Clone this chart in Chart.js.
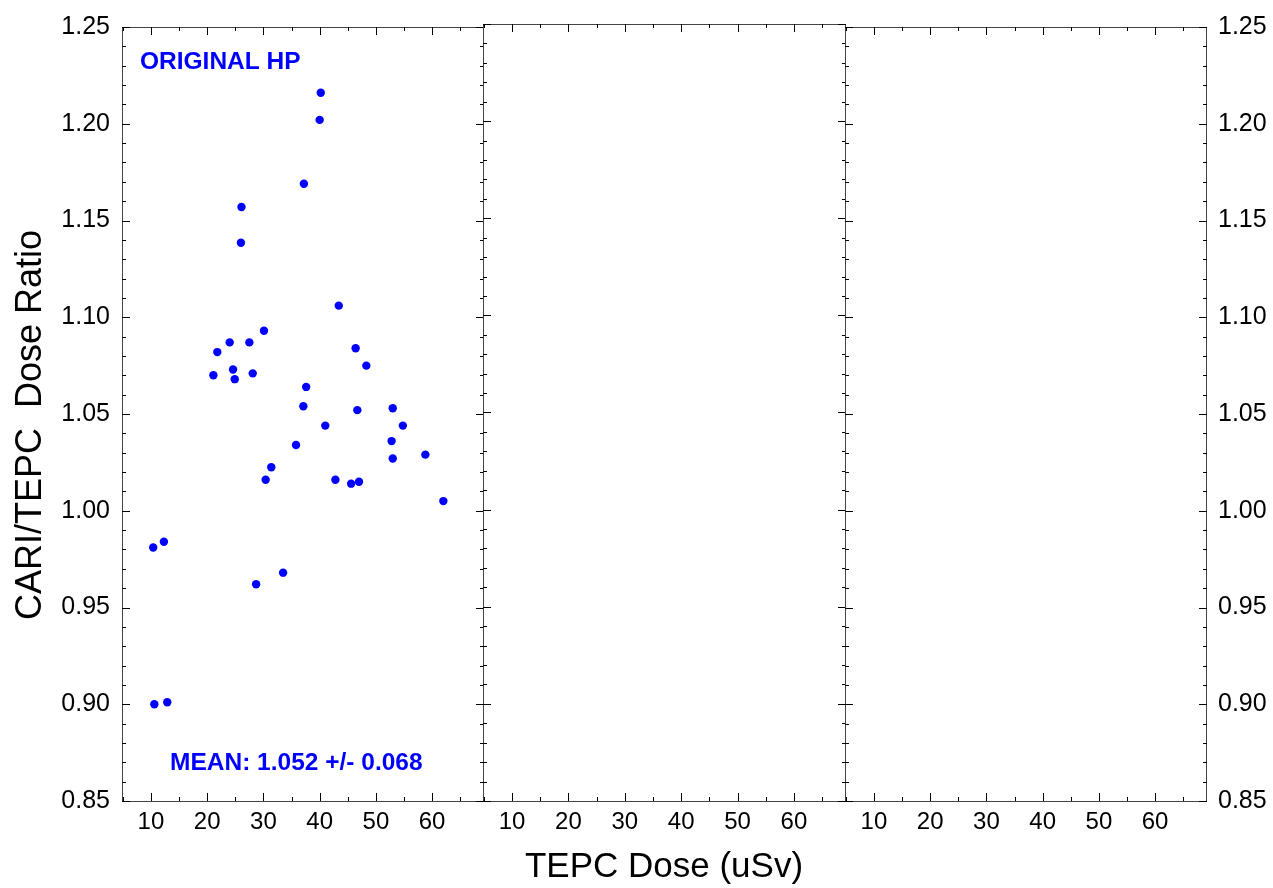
<!DOCTYPE html>
<html lang="en">
<head>
  <meta charset="UTF-8" />
  <title>CARI/TEPC Dose Ratio</title>
  <script src="https://cdn.jsdelivr.net/npm/chart.js"></script>
  <style>
    body {
      margin: 0;
      background: #fff;
    }
    .wrap {
      position: relative;
      width: 1273px;
      height: 888px;
      background: #fff;
    }
    .wrap canvas {
      position: absolute;
      top: 0;
    }
    #panelLeft { left: 0; }
    #panelMid { left: 476px; }
    #panelRight { left: 838px; }
  </style>
</head>
<body>
  <div class="wrap">
    <canvas id="panelLeft" width="490" height="888"></canvas>
    <canvas id="panelMid" width="376" height="888"></canvas>
    <canvas id="panelRight" width="435" height="888"></canvas>
  </div>

  <script>
    // TEPC dose (uSv) and CARI/TEPC ratio
    const tepcDose = [
      40.2, 40.0, 37.2, 26.1, 26.0,
      43.4, 30.1, 24.0, 27.5, 21.8, 46.4, 48.3, 24.6, 21.1, 24.9, 28.1,
      37.6, 37.1, 46.7, 53.0, 54.8, 41.0, 35.8, 52.8, 53.0, 58.8, 31.4,
      30.4, 42.8, 45.6, 47.0, 62.0,
      10.4, 12.3, 28.7, 33.5, 10.6, 12.9
    ];
    const doseRatio = [
      1.216, 1.202, 1.169, 1.157, 1.1385,
      1.106, 1.093, 1.087, 1.087, 1.082, 1.084, 1.075, 1.073, 1.070, 1.068, 1.071,
      1.064, 1.054, 1.052, 1.053, 1.044, 1.044, 1.034, 1.036, 1.027, 1.029, 1.0225,
      1.016, 1.016, 1.014, 1.015, 1.005,
      0.981, 0.984, 0.962, 0.968, 0.900, 0.901
    ];

    const xTicks = [10, 20, 30, 40, 50, 60];
    const xMinorTicks = [5, 15, 25, 35, 45, 55, 65];
    const yTicks = [0.85, 0.90, 0.95, 1.00, 1.05, 1.10, 1.15, 1.20, 1.25];
    const xRange = [4.85, 69.05];
    const yRange = [0.85, 1.25];

    const panelLabel = 'ORIGINAL HP';
    const meanLabel = 'MEAN: 1.052 +/- 0.068';
    const yTitle = 'CARI/TEPC  Dose Ratio';
    const xTitle = 'TEPC Dose (uSv)';

    const FONT = 'Arial, "Liberation Sans", sans-serif';
    const BLUE = '#0000ff';

    // y minor ticks every 0.01
    const yMinorTicks = [];
    for (let i = 85; i <= 125; i++) {
      if (i % 5 !== 0) yMinorTicks.push(i / 100);
    }

    // frame round the panel and inward tick marks on all four sides
    const frameTicks = {
      id: 'frameTicks',
      afterDatasetsDraw(chart) {
        const { ctx, chartArea: a, scales: { x, y } } = chart;
        ctx.save();
        ctx.strokeStyle = '#444';
        ctx.lineWidth = 1;
        ctx.strokeRect(a.left + 0.5, a.top + 0.5, a.right - a.left, a.bottom - a.top);

        ctx.strokeStyle = '#000';
        ctx.beginPath();
        const xt = (v, len) => {
          const px = Math.round(x.getPixelForValue(v)) + 0.5;
          ctx.moveTo(px, a.bottom);
          ctx.lineTo(px, a.bottom - len);
          ctx.moveTo(px, a.top);
          ctx.lineTo(px, a.top + len);
        };
        const yt = (v, len) => {
          const py = Math.round(y.getPixelForValue(v)) + 0.5;
          ctx.moveTo(a.left, py);
          ctx.lineTo(a.left + len, py);
          ctx.moveTo(a.right + 1, py);
          ctx.lineTo(a.right + 1 - len, py);
        };
        xTicks.forEach(v => xt(v, 8));
        xMinorTicks.forEach(v => xt(v, 4));
        yTicks.forEach(v => yt(v, 8));
        yMinorTicks.forEach(v => yt(v, 4));
        ctx.stroke();
        ctx.restore();
      }
    };

    // blue labels inside the left panel and the rotated y title
    const notes = {
      id: 'notes',
      afterDraw(chart) {
        const { ctx, chartArea: a } = chart;
        ctx.save();
        ctx.font = 'bold 24.5px ' + FONT;
        ctx.fillStyle = BLUE;
        ctx.textBaseline = 'middle';
        ctx.fillText(panelLabel, a.left + 18, 62);
        ctx.fillText(meanLabel, a.left + 48, 763);

        ctx.translate(31, 425);
        ctx.rotate(-Math.PI / 2);
        ctx.font = '36px ' + FONT;
        ctx.fillStyle = '#000';
        ctx.textAlign = 'center';
        ctx.fillText(yTitle, 0, 0);
        ctx.restore();
      }
    };

    function makePanel(id, cfg) {
      const xScale = {
        type: 'linear',
        position: 'bottom',
        min: xRange[0],
        max: xRange[1],
        afterBuildTicks: s => { s.ticks = xTicks.map(v => ({ value: v })); },
        afterFit: s => { s.height = 87; },
        grid: { display: false, drawTicks: false },
        border: { display: false },
        ticks: {
          color: '#000',
          padding: 7,
          maxRotation: 0,
          autoSkip: false,
          font: { family: FONT, size: 24 }
        },
        title: {
          display: !!cfg.xTitle,
          text: cfg.xTitle || '',
          color: '#000',
          padding: { top: 0, bottom: 0 },
          font: { family: FONT, size: 35 }
        }
      };

      const yScale = {
        type: 'linear',
        display: cfg.yPos ? true : false,
        position: cfg.yPos || 'left',
        min: yRange[0],
        max: yRange[1],
        afterBuildTicks: s => { s.ticks = yTicks.map(v => ({ value: v })); },
        afterFit: s => { s.width = cfg.yWidth || 0; },
        grid: { display: false, drawTicks: false },
        border: { display: false },
        ticks: {
          color: '#000',
          padding: 12,
          autoSkip: false,
          font: { family: FONT, size: 25 },
          callback: v => v.toFixed(2)
        }
      };

      return new Chart(document.getElementById(id), {
        type: 'scatter',
        data: {
          datasets: [{
            data: cfg.points || [],
            pointRadius: 4.2,
            pointBackgroundColor: BLUE,
            pointBorderWidth: 0,
            borderColor: BLUE
          }]
        },
        options: {
          responsive: false,
          animation: false,
          layout: { padding: cfg.padding },
          scales: { x: xScale, y: yScale },
          plugins: {
            legend: { display: false },
            tooltip: { enabled: false }
          }
        },
        plugins: cfg.extra ? [frameTicks, cfg.extra] : [frameTicks]
      });
    }

    const points = tepcDose.map((d, i) => ({ x: d, y: doseRatio[i] }));

    makePanel('panelLeft', {
      points,
      yPos: 'left',
      yWidth: 122,
      padding: { left: 0, right: 7, top: 24, bottom: 0 },
      extra: notes
    });

    makePanel('panelMid', {
      xTitle,
      padding: { left: 7, right: 7, top: 24, bottom: 0 }
    });

    makePanel('panelRight', {
      yPos: 'right',
      yWidth: 67,
      padding: { left: 7, right: 0, top: 24, bottom: 0 }
    });
  </script>
</body>
</html>
